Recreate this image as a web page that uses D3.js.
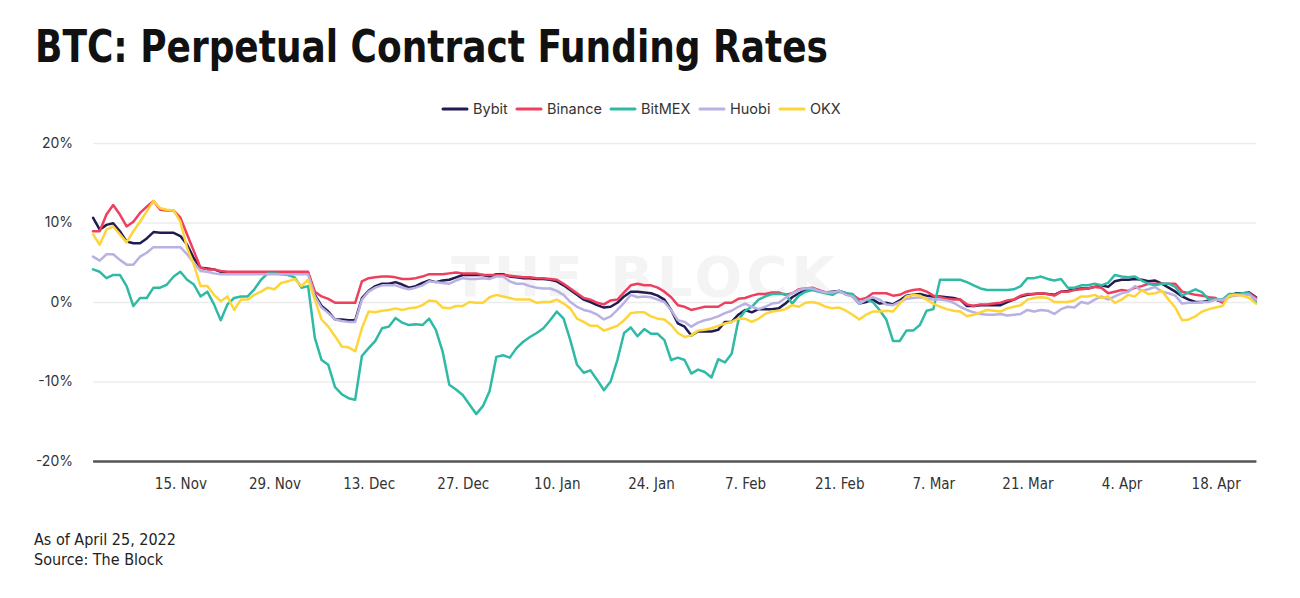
<!DOCTYPE html>
<html>
<head>
<meta charset="utf-8">
<script src="https://cdn.jsdelivr.net/npm/d3@7"></script>
<style>
  html, body { margin: 0; padding: 0; background: #fff; }
  svg { display: block; }
</style>
</head>
<body>
<svg id="chart" width="1300" height="598"></svg>
<script>
// ---------- DATA ----------
const startDate = "2021-11-02";
const endDate = "2022-04-25"; // exclusive
const seriesNames = ["Bybit", "Binance", "BitMEX", "Huobi", "OKX"];
const seriesColors = ["#211b52", "#ee3f5e", "#2fbaa6", "#b9b0e3", "#fdd53a"];
const yTicks = [-20, -10, 0, 10, 20];
const xTickDates = ["2021-11-15","2021-11-29","2021-12-13","2021-12-27","2022-01-10","2022-01-24","2022-02-07","2022-02-21","2022-03-07","2022-03-21","2022-04-04","2022-04-18"];

const bybit = [10.6,9.1,9.7,9.9,8.9,7.6,7.4,7.4,8.0,8.8,8.7,8.7,8.7,8.3,7.2,5.5,4.3,4.2,4.1,3.8,
3.7,3.7,3.7,3.7,3.7,3.7,3.7,3.7,3.7,3.7,3.7,3.7,3.7,
0.9,-0.5,-1.2,-2.2,-2.2,-2.3,-2.3,0.5,1.4,2.0,2.3,2.3,2.5,2.2,1.8,2.0,2.4,2.7,2.5,2.7,2.8,3.1,3.4,3.4,3.4,3.4,3.2,
3.5,3.5,3.2,3.1,3.0,3.0,2.9,2.9,2.8,2.6,2.1,1.5,0.9,0.3,0,-0.4,-0.7,-0.6,-0.1,0.7,1.3,1.3,1.2,1.1,0.8,0.3,-1.0,-2.7,-3.1,-4.2,-3.7,-3.7,-3.7,-3.5,-2.5,-2.5,-1.6,-1.0,-1.3,-0.9,-0.9,-0.9,-0.8,-0.2,0.6,1.1,1.5,1.7,1.4,1.2,1.3,1.4,1.1,0.7,-0.2,0,0.3,-0.2,
-0.1,-0.3,0.2,0.8,0.9,1.0,0.8,0.7,0.7,0.6,0.5,0.3,-0.5,-0.5,-0.4,-0.4,-0.4,-0.4,0,0.3,
0.7,0.9,1.0,1.1,1.0,0.9,1.3,1.4,1.6,1.7,1.7,1.9,2.1,1.9,2.6,2.8,2.8,2.9,2.8,2.6,2.7,2.3,1.8,1.3,0.7,0.3,0,0,0.2,0.3,0,0.7,1.1,1.1,1.2,0.6];

const binance = [8.9,8.9,11.0,12.2,11.0,9.5,10.1,11.2,12.0,12.7,11.6,11.5,11.5,10.6,8.5,6.4,4.3,4.1,4.1,3.9,
3.8,3.8,3.8,3.8,3.8,3.8,3.8,3.8,3.8,3.8,3.8,3.8,3.8,
1.3,0.7,0.4,-0.1,-0.1,-0.1,-0.1,2.6,3.0,3.1,3.2,3.2,3.1,2.9,2.9,3.0,3.2,3.5,3.5,3.5,3.6,3.7,3.6,3.6,3.6,3.4,3.4,
3.4,3.4,3.3,3.2,3.1,3.1,3.0,3.0,2.9,2.8,2.3,1.7,1.1,0.5,0.3,-0.1,-0.3,0.2,0.3,1.2,2.1,2.3,2.1,2.1,1.8,1.3,0.6,-0.4,-0.6,-1.0,-0.8,-0.6,-0.6,-0.6,-0.1,-0.1,0.4,0.5,0.8,1.0,1.0,1.2,1.2,0.9,1.1,1.6,1.7,1.8,1.5,1.2,1.2,1.3,1.1,0.9,0.3,0.5,1.1,1.1,
1.1,0.8,0.9,1.3,1.5,1.6,1.3,0.8,0.6,0.4,0.3,0.3,-0.3,-0.5,-0.3,-0.3,-0.2,-0.1,0.2,0.3,
0.8,1.0,1.0,1.1,1.0,0.8,1.3,1.3,1.5,1.6,1.7,1.9,1.8,1.1,1.3,1.5,1.4,1.8,2.0,2.3,2.3,2.3,2.3,2.3,1.3,1.1,0.9,0.8,0.6,0.5,-0.1,0.7,0.9,0.9,1.1,0.5];

const bitmex = [4.1,3.8,3.0,3.4,3.4,2.0,-0.5,0.5,0.5,1.8,1.8,2.2,3.2,3.8,2.8,2.2,0.7,1.3,-0.3,-2.3,
-0.3,0.5,0.7,0.7,1.6,2.8,3.6,3.6,3.5,3.4,3.1,1.8,2.0,
-4.5,-7.3,-7.9,-10.7,-11.6,-12.1,-12.3,-6.8,-5.8,-4.9,-3.3,-3.1,-2.0,-2.6,-2.9,-2.8,-2.9,-2.1,-3.5,-6.2,-10.4,-11.0,-11.7,-12.9,-14.1,-13.1,-11.2,
-6.9,-6.7,-7.0,-5.8,-5.0,-4.4,-3.9,-3.3,-2.3,-1.2,-2.1,-4.8,-7.9,-8.9,-8.6,-9.8,-11.1,-10.0,-7.3,-3.9,-3.2,-4.3,-3.4,-4.0,-4.0,-4.8,-7.3,-7.0,-7.3,-9.0,-8.5,-8.8,-9.5,-7.2,-7.6,-6.5,-2.3,-1.1,-0.6,0.3,0.7,1.0,1.0,1.0,-0.2,0.8,1.3,1.5,1.3,1.1,0.9,1.4,1.1,1.0,-0.2,0.3,0,-1.0,
-2.2,-4.9,-4.9,-3.6,-3.6,-2.9,-1.1,-0.9,2.8,2.8,2.8,2.8,2.5,2.1,1.7,1.5,1.5,1.5,1.5,1.6,
2.0,3.0,3.0,3.2,2.9,2.7,2.9,1.8,1.8,2.1,2.1,2.3,2.1,2.4,3.4,3.2,3.1,3.2,2.7,2.3,2.1,2.3,2.3,1.9,0.8,1.2,1.6,1.2,0.3,0.3,0.3,1.0,1.0,1.1,1.1,0];

const huobi = [5.7,5.2,6.0,6.0,5.3,4.7,4.7,5.7,6.2,6.9,6.9,6.9,6.9,6.9,6.0,4.9,3.9,3.8,3.6,3.5,
3.5,3.5,3.5,3.5,3.5,3.5,3.5,3.5,3.5,3.5,3.5,3.5,3.5,
0.7,-0.7,-1.4,-2.2,-2.4,-2.5,-2.5,0.3,1.3,1.8,2.1,2.1,2.1,1.8,1.6,1.8,2.1,2.6,2.5,2.4,2.3,2.7,3.0,2.9,2.9,3.0,2.9,
3.2,3.2,2.6,2.3,2.3,2.0,1.8,1.7,1.7,1.4,0.9,0,-0.6,-1.0,-1.2,-1.6,-2.2,-1.8,-1.0,-0.1,0.9,0.6,0.7,0.6,0.3,0,-1.0,-2.3,-2.5,-3.1,-2.6,-2.3,-2.1,-1.8,-1.4,-1.1,-0.6,-0.2,-0.6,-0.9,-0.6,-0.2,-0.1,0.5,1.1,1.5,1.7,1.7,1.4,1.2,1.2,1.4,0.9,0.7,-0.2,0.3,0.6,0.3,
-0.3,-0.4,0,0.4,0.5,0.6,0.4,0.3,0.3,0.2,-0.1,-0.6,-1.0,-1.3,-1.5,-1.6,-1.6,-1.5,-1.7,-1.6,
-1.5,-1.0,-1.2,-1.0,-1.1,-1.5,-0.9,-0.6,-0.7,0,-0.2,0.3,0.7,0.3,0.7,1.1,1.3,2.0,1.4,1.6,1.9,1.3,1.1,0.8,-0.2,-0.1,-0.1,0,0,0.3,0.2,0.7,0.8,0.9,0.9,0.3];

const okx = [8.5,7.2,9.1,9.5,8.5,7.5,8.9,10.1,11.4,12.7,11.8,11.6,11.5,10.1,6.8,4.7,2.0,2.0,0.9,0.1,
0.7,-1.0,0.3,0.3,0.9,1.3,1.8,1.6,2.4,2.6,2.9,2.0,2.8,
0.3,-2.2,-3.1,-4.3,-5.6,-5.7,-6.2,-3.3,-1.2,-1.3,-1.1,-1.0,-0.8,-1.0,-0.8,-0.7,-0.4,0.2,0.1,-0.7,-0.8,-0.5,-0.5,0,-0.1,-0.1,0.6,
0.9,0.7,0.5,0.3,0.3,0.3,-0.1,0,0,0.3,-0.2,-0.8,-2.1,-2.5,-3.0,-3.0,-3.6,-3.3,-3.0,-2.3,-1.4,-1.3,-1.3,-1.8,-2.1,-2.2,-2.9,-3.9,-4.4,-4.2,-3.6,-3.5,-3.3,-3.0,-2.7,-2.5,-2.1,-2.1,-2.5,-2.1,-1.5,-1.2,-1.1,-0.9,-0.4,-0.6,-0.1,0,-0.2,-0.6,-0.8,-0.7,-1.1,-1.6,-2.2,-1.6,-1.2,-1.2,
-1.1,-1.2,-0.2,0.7,0.9,0.8,0.3,-0.2,-0.6,-0.9,-1.1,-1.2,-1.8,-1.6,-1.3,-1.0,-1.1,-1.2,-0.8,-0.6,
-0.4,0.3,0.5,0.6,0.5,0,0,0,0.2,0.7,0.7,0.9,0.5,0.7,-0.1,0.3,0.9,0.7,1.5,1.0,1.1,1.4,0.3,-0.7,-2.3,-2.2,-1.8,-1.2,-0.9,-0.7,-0.5,0.8,0.9,0.8,0.5,-0.2];

const seriesValues = [bybit, binance, bitmex, huobi, okx];

// ---------- CHART ----------
const svg = d3.select("#chart");
const dates = d3.utcDay.range(new Date(startDate + "T00:00:00Z"), new Date(endDate + "T00:00:00Z"));
const plot = { left: 93, right: 1256, top: 143, bottom: 461 };

const x = d3.scaleUtc()
  .domain([dates[0], dates[dates.length - 1]])
  .range([plot.left, plot.right]);
const y = d3.scaleLinear().domain([-20, 20]).range([plot.bottom, plot.top]);

// Title
svg.append("text")
  .attr("x", 35).attr("y", 62)
  .attr("textLength", 793).attr("lengthAdjust", "spacingAndGlyphs")
  .style("font-family", "'DejaVu Sans Condensed','Liberation Sans Narrow','DejaVu Sans',sans-serif")
  .style("font-weight", "bold").style("font-size", "44px").style("fill", "#111")
  .text("BTC: Perpetual Contract Funding Rates");

// Watermark
svg.append("text")
  .attr("x", 645).attr("y", 296).attr("text-anchor", "middle")
  .style("font-family", "'DejaVu Sans','Liberation Sans',sans-serif")
  .style("font-weight", "bold").style("font-size", "56px").style("letter-spacing", "4px")
  .style("fill", "#f4f4f4")
  .text("THE BLOCK");

// Gridlines
const yAxis = d3.axisLeft(y).tickValues(yTicks).tickSize(-(plot.right - plot.left)).tickFormat(d => d + "%");
const gy = svg.append("g").attr("transform", `translate(${plot.left},0)`).call(yAxis);
gy.select(".domain").remove();
gy.selectAll(".tick line").attr("stroke", "#ececec").attr("stroke-width", 1.5);
gy.selectAll(".tick text").attr("x", -20)
  .style("font-family", "Inter, 'Noto Sans', sans-serif").style("font-size", "14px").style("fill", "#333");

// X axis
const xAxis = d3.axisBottom(x)
  .tickValues(xTickDates.map(s => new Date(s + "T00:00:00Z")))
  .tickSize(0).tickPadding(17)
  .tickFormat(d3.utcFormat("%-d. %b"));
const gx = svg.append("g").attr("transform", `translate(0,${plot.bottom})`).call(xAxis);
gx.select(".domain").attr("stroke", "#555").attr("stroke-width", 2);
gx.selectAll(".tick text")
  .style("font-family", "'Liberation Sans Narrow','DejaVu Sans Condensed',sans-serif").style("font-size", "15px").style("fill", "#333");
gy.selectAll(".tick").filter(d => d === -20).select("line").attr("stroke", "#555").attr("stroke-width", 2);

// Lines
const line = d3.line().x((d, i) => x(dates[i])).y(d => y(d));
const g = svg.append("g");
seriesValues.forEach((vals, k) => {
  g.append("path").datum(vals)
    .attr("fill", "none").attr("stroke", seriesColors[k]).attr("stroke-width", 2.5)
    .attr("stroke-linejoin", "round").attr("stroke-linecap", "round")
    .attr("d", line);
});

// Legend
const legendX = [443, 517, 611, 700, 780];
const lg = svg.append("g");
seriesNames.forEach((name, k) => {
  const item = lg.append("g").attr("transform", `translate(${legendX[k]},109)`);
  item.append("line").attr("x1", 0).attr("x2", 24).attr("y1", 0).attr("y2", 0)
    .attr("stroke", seriesColors[k]).attr("stroke-width", 3).attr("stroke-linecap", "round");
  item.append("text").attr("x", 30).attr("y", 5)
    .style("font-family", "Inter, 'Noto Sans', sans-serif").style("font-size", "14.5px").style("fill", "#333")
    .text(name);
});

// Footer
const foot = ["As of April 25, 2022", "Source: The Block"];
foot.forEach((t, i) => {
  svg.append("text").attr("x", 34).attr("y", 545 + i * 20)
    .style("font-family", "'DejaVu Sans Condensed','Liberation Sans Narrow',sans-serif")
    .style("font-size", "16px").style("fill", "#222")
    .text(t);
});
</script>
</body>
</html>
